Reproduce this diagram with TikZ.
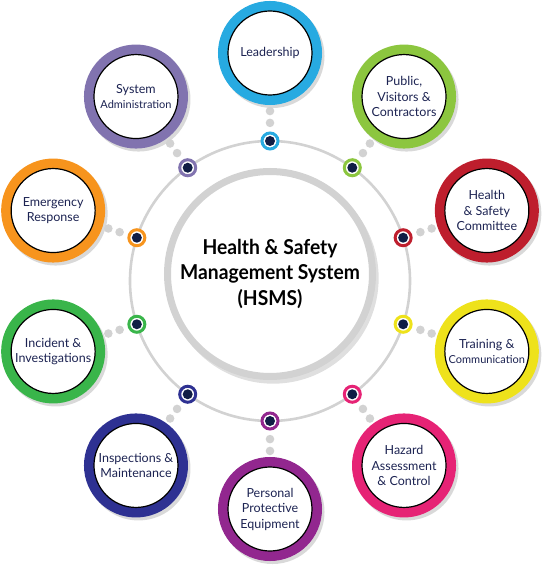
\documentclass[tikz,border=0pt]{standalone}
\usepackage{fontspec}
\setmainfont{Lato}
\newfontfamily\hubfont[FakeStretch=0.94]{Lato}
\usetikzlibrary{shadows}

\definecolor{navytext}{HTML}{1C2352}
\definecolor{dotnavy}{HTML}{101D45}
\definecolor{ringgrey}{HTML}{D2D2D2}
\definecolor{leadblue}{HTML}{27AAE1}
\definecolor{pubgreen}{HTML}{8CC63F}
\definecolor{comred}{HTML}{BE1E2D}
\definecolor{trainyellow}{HTML}{EEE21B}
\definecolor{hazpink}{HTML}{E62375}
\definecolor{ppepurple}{HTML}{92278F}
\definecolor{inspindigo}{HTML}{2E3192}
\definecolor{incgreen}{HTML}{39B54A}
\definecolor{emorange}{HTML}{F7941D}
\definecolor{syslav}{HTML}{8173AF}

\begin{document}
\begin{tikzpicture}[x=1pt, y=1pt,
    item/.style={circle, fill=white, draw=black, line width=1.2pt, minimum size=84pt, inner sep=0pt,
                 align=center, text=navytext, font=\fontsize{12.5}{15.5}\selectfont,
                 preaction={draw=black, opacity=.15, line width=20pt, transform canvas={shift={(2.5pt,-3pt)}}},
                 preaction={draw=#1, line width=20pt}},
    ringdot/.style={circle, minimum size=16pt, inner sep=0pt, fill=white, draw=#1, line width=3pt,
                    path picture={\fill[dotnavy] (path picture bounding box.center) circle (5pt);}},
    greydot/.style={circle, fill=ringgrey, minimum size=8.6pt, inner sep=0pt},
    hub/.style={circle, minimum size=205pt, fill=white, draw=ringgrey, line width=7pt, align=center,
                font=\hubfont\fontsize{20.5}{25.5}\selectfont\bfseries,
                drop shadow={shadow xshift=3pt, shadow yshift=-4pt, shadow scale=1.03, opacity=.25}}]
    \useasboundingbox (-270,-291) rectangle (284,281);

    \draw[ringgrey, line width=2.6pt] (0,0) circle (140pt);
    \node[hub] (hsms) at (0,7) {Health \& Safety\\Management System\\(HSMS)};

    \node[item=leadblue] (lead) at (90:228pt) {Leadership};
    \node[item=pubgreen] (public) at (54:228pt) {Public,\\Visitors \&\\Contractors};
    \node[item=comred] (committee) at (18:228pt) {Health\\\& Safety\\Committee};
    \node[item=trainyellow] (training) at (-18:228pt) {Training \&\\{\fontsize{11}{14}\selectfont Communication}};
    \node[item=hazpink] (hazard) at (-54:228pt) {Hazard\\Assessment\\\& Control};
    \node[item=ppepurple] (ppe) at (-90:228pt) {Personal\\Protective\\Equipment};
    \node[item=inspindigo] (inspect) at (-126:228pt) {Inspections \&\\Maintenance};
    \node[item=incgreen] (incident) at (-162:228pt) {Incident \&\\Investigations};
    \node[item=emorange] (emergency) at (162:228pt) {Emergency\\Response};
    \node[item=syslav] (sysadmin) at (126:228pt) {System\\{\fontsize{11}{14}\selectfont Administration}};

    \node[ringdot=leadblue] (d1) at (90:140pt) {};
    \node[ringdot=pubgreen] (d2) at (54:140pt) {};
    \node[ringdot=comred] (d3) at (18:140pt) {};
    \node[ringdot=trainyellow] (d4) at (-18:140pt) {};
    \node[ringdot=hazpink] (d5) at (-54:140pt) {};
    \node[ringdot=ppepurple] (d6) at (-90:140pt) {};
    \node[ringdot=inspindigo] (d7) at (-126:140pt) {};
    \node[ringdot=incgreen] (d8) at (-162:140pt) {};
    \node[ringdot=emorange] (d9) at (162:140pt) {};
    \node[ringdot=syslav] (d10) at (126:140pt) {};

    \path[every edge/.style={draw=none}, every node/.style={greydot}]
    (d1) edge node[pos=.24] {} node[pos=.57] {} (lead)
    (d2) edge node[pos=.24] {} node[pos=.57] {} (public)
    (d3) edge node[pos=.24] {} node[pos=.57] {} (committee)
    (d4) edge node[pos=.24] {} node[pos=.57] {} (training)
    (d5) edge node[pos=.24] {} node[pos=.57] {} (hazard)
    (d6) edge node[pos=.24] {} node[pos=.57] {} (ppe)
    (d7) edge node[pos=.24] {} node[pos=.57] {} (inspect)
    (d8) edge node[pos=.24] {} node[pos=.57] {} (incident)
    (d9) edge node[pos=.24] {} node[pos=.57] {} (emergency)
    (d10) edge node[pos=.24] {} node[pos=.57] {} (sysadmin);
\end{tikzpicture}
\end{document}
